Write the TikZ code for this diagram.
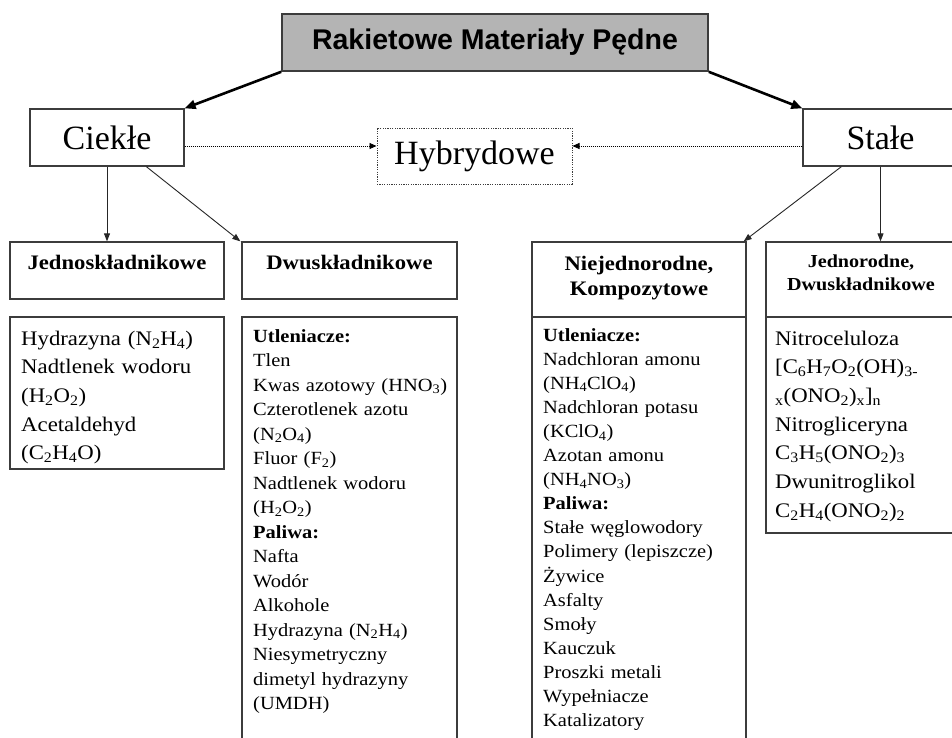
\documentclass[tikz,border=0pt]{standalone}
\usepackage{fontspec}
\setmainfont{Liberation Serif}
\newfontfamily\wideserif[FakeStretch=1.1]{Liberation Serif}
\newfontfamily\titlesans{Liberation Sans}
\usetikzlibrary{arrows.meta,calc}
\newcommand\sbs[1]{\textsubscript{#1}}
\definecolor{titlefill}{RGB}{180,180,180}
\definecolor{edgecol}{RGB}{60,60,60}
\begin{document}
\begin{tikzpicture}[x=1pt,y=-1pt,
  box/.style={draw=edgecol,line width=1.3pt,inner sep=0pt,rectangle},
  dotbox/.style={draw=edgecol,line width=1pt,dash pattern=on 1.2pt off 1.2pt,inner sep=0pt,rectangle},
  bigserif/.style={font=\fontsize{34}{40}\selectfont},
  thickarrow/.style={line width=2.6pt,-{Triangle[length=11pt,width=9pt]}},
  thinarrow/.style={line width=0.9pt,draw=black!85,-{Triangle[length=8pt,width=6pt]}},
  dotarrow/.style={line width=0.9pt,dash pattern=on 1pt off 1pt,-{Triangle[length=7pt,width=6pt]}},
  bigtext/.style={anchor=base west,inner sep=0pt,text width=200pt,align=left,
    font=\wideserif\fontsize{20.7}{28.7}\selectfont},
  smalltext/.style={anchor=base west,inner sep=0pt,text width=205pt,align=left,
    font=\wideserif\fontsize{18.6}{#1}\selectfont},
  headtext/.style={anchor=base,inner sep=0pt,text width=210pt,align=center,
    font=\wideserif\bfseries\fontsize{20.6}{25}\selectfont},
]
\useasboundingbox (0,0) rectangle (952,737);
\fill[white] (0,0) rectangle (952,737);

% top
\node[box,fill=titlefill,line width=1.6pt,minimum width=426pt,minimum height=57pt,
  font=\titlesans\bfseries\fontsize{28.5}{34}\selectfont] (top) at (495,42.5) {Rakietowe Materiały Pędne};

% level 1
\node[box,bigserif,minimum width=154pt,minimum height=57pt] (ciekle) at (107,137.5) {Ciekłe};
\node[box,bigserif,minimum width=155pt,minimum height=57pt] (stale) at (880.5,137.5) {Stałe};
\node[dotbox,bigserif,minimum width=195pt,minimum height=56pt] (hyb) at (474.5,156) {Hybrydowe};

% headers
\node[box,minimum width=214pt,minimum height=57pt] (jh) at (117,270.5) {};
\node[box,minimum width=215pt,minimum height=57pt] (dh) at (349.5,270.5) {};
\node[box,minimum width=214pt,minimum height=75pt] (nh) at (639,279.5) {};
\node[box,minimum width=192pt,minimum height=75pt] (rh) at (862,279.5) {};

\node[headtext] (jht) at (117,269) {Jednoskładnikowe};
\node[headtext] (dht) at (349.5,269) {Dwuskładnikowe};
\node[headtext] (nht) at (639,270) {Niejednorodne,\\Kompozytowe};
\node[headtext,font=\wideserif\bfseries\fontsize{18.3}{23}\selectfont] (rht) at (861,267) {Jednorodne,\\Dwuskładnikowe};

% content boxes
\node[box,minimum width=214pt,minimum height=152pt] (jc) at (117,393) {};
\node[box,minimum width=215pt,minimum height=428pt] (dc) at (349.5,531) {};
\node[box,minimum width=214pt,minimum height=428pt] (nc) at (639,531) {};
\node[box,minimum width=192pt,minimum height=216pt] (rc) at (862,425) {};

\node[bigtext] (jct) at (21,345) {Hydrazyna (N\sbs{2}H\sbs{4})\\
Nadtlenek wodoru\\
(H\sbs{2}O\sbs{2})\\
Acetaldehyd\\
(C\sbs{2}H\sbs{4}O)};

\node[smalltext=24.5] (dct) at (253,342) {\textbf{Utleniacze:}\\
Tlen\\
Kwas azotowy (HNO\sbs{3})\\
Czterotlenek azotu\\
(N\sbs{2}O\sbs{4})\\
Fluor (F\sbs{2})\\
Nadtlenek wodoru\\
(H\sbs{2}O\sbs{2})\\
\textbf{Paliwa:}\\
Nafta\\
Wodór\\
Alkohole\\
Hydrazyna (N\sbs{2}H\sbs{4})\\
Niesymetryczny\\
dimetyl hydrazyny\\
(UMDH)};

\node[smalltext=24.1] (nct) at (543,341) {\textbf{Utleniacze:}\\
Nadchloran amonu\\
(NH\sbs{4}ClO\sbs{4})\\
Nadchloran potasu\\
(KClO\sbs{4})\\
Azotan amonu\\
(NH\sbs{4}NO\sbs{3})\\
\textbf{Paliwa:}\\
Stałe węglowodory\\
Polimery (lepiszcze)\\
Żywice\\
Asfalty\\
Smoły\\
Kauczuk\\
Proszki metali\\
Wypełniacze\\
Katalizatory};

\node[bigtext] (rct) at (775,345) {Nitroceluloza\\
{[}C\sbs{6}H\sbs{7}O\sbs{2}(OH)\sbs{3-}\\
\sbs{x}(ONO\sbs{2})\sbs{x}]\sbs{n}\\
Nitrogliceryna\\
C\sbs{3}H\sbs{5}(ONO\sbs{2})\sbs{3}\\
Dwunitroglikol\\
C\sbs{2}H\sbs{4}(ONO\sbs{2})\sbs{2}};

% connectors
\draw[thickarrow] (top.south west) -- (ciekle.north east);
\draw[thickarrow] (top.south east) -- (stale.north west);
\coordinate (hl) at (0,146);
\draw[dotarrow] (ciekle.east |- hl) -- (hyb.west |- hl);
\draw[dotarrow] (stale.west |- hl) -- (hyb.east |- hl);
\draw[thinarrow] (ciekle.south) -- (ciekle.south |- jh.north);
\draw[thinarrow] ($(ciekle.south west)+(117,0)$) -- ($(dh.north west)+(-1,0)$);
\draw[thinarrow] ($(stale.south west)+(39,0)$) -- ($(nh.north east)+(-3,0)$);
\draw[thinarrow] (stale.south) -- (stale.south |- rh.north);
\end{tikzpicture}
\end{document}
